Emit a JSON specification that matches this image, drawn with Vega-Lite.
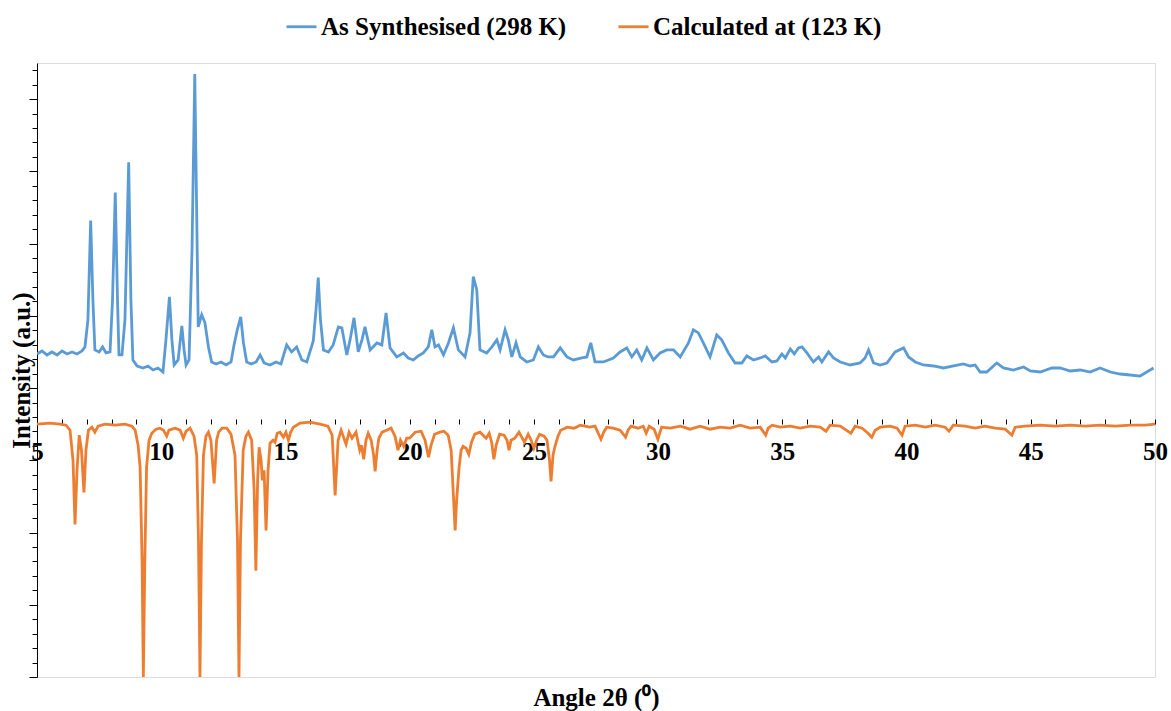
{
  "$schema": "https://vega.github.io/schema/vega-lite/v6.json",
  "autosize": {"type": "none"},
  "padding": {"left": 37, "top": 63, "right": 16, "bottom": 34},
  "width": 1118,
  "height": 614,
  "background": "white",
  "datasets": {
    "synth": [
      {"angle":5.00,"intensity":70},{"angle":5.20,"intensity":73},{"angle":5.40,"intensity":69},{"angle":5.60,"intensity":72},{"angle":5.81,"intensity":69},{"angle":6.01,"intensity":73},{"angle":6.21,"intensity":70},{"angle":6.41,"intensity":72},{"angle":6.61,"intensity":70},{"angle":6.81,"intensity":73},{"angle":6.93,"intensity":77},{"angle":7.05,"intensity":104},{"angle":7.16,"intensity":203},{"angle":7.25,"intensity":124},{"angle":7.33,"intensity":74},{"angle":7.50,"intensity":72},{"angle":7.64,"intensity":77},{"angle":7.78,"intensity":71},{"angle":7.94,"intensity":72},{"angle":8.04,"intensity":124},{"angle":8.15,"intensity":231},{"angle":8.24,"intensity":124},{"angle":8.30,"intensity":69},{"angle":8.42,"intensity":69},{"angle":8.54,"intensity":104},{"angle":8.69,"intensity":261},{"angle":8.78,"intensity":124},{"angle":8.86,"intensity":64},{"angle":9.03,"intensity":58},{"angle":9.27,"intensity":56},{"angle":9.47,"intensity":58},{"angle":9.67,"intensity":54},{"angle":9.87,"intensity":56},{"angle":10.07,"intensity":52},{"angle":10.19,"intensity":84},{"angle":10.33,"intensity":127},{"angle":10.43,"intensity":84},{"angle":10.52,"intensity":59},{"angle":10.68,"intensity":64},{"angle":10.83,"intensity":98},{"angle":10.92,"intensity":74},{"angle":11.00,"intensity":59},{"angle":11.12,"intensity":64},{"angle":11.24,"intensity":174},{"angle":11.35,"intensity":349},{"angle":11.42,"intensity":224},{"angle":11.49,"intensity":97},{"angle":11.63,"intensity":109},{"angle":11.76,"intensity":101},{"angle":11.90,"intensity":77},{"angle":12.03,"intensity":62},{"angle":12.21,"intensity":60},{"angle":12.41,"intensity":62},{"angle":12.61,"intensity":59},{"angle":12.81,"intensity":62},{"angle":12.93,"intensity":79},{"angle":13.06,"intensity":94},{"angle":13.20,"intensity":107},{"angle":13.31,"intensity":81},{"angle":13.44,"intensity":62},{"angle":13.62,"intensity":60},{"angle":13.82,"intensity":62},{"angle":13.98,"intensity":69},{"angle":14.14,"intensity":61},{"angle":14.38,"intensity":59},{"angle":14.62,"intensity":62},{"angle":14.82,"intensity":60},{"angle":15.05,"intensity":79},{"angle":15.25,"intensity":72},{"angle":15.45,"intensity":77},{"angle":15.66,"intensity":64},{"angle":15.86,"intensity":62},{"angle":16.12,"intensity":83},{"angle":16.23,"intensity":114},{"angle":16.32,"intensity":146},{"angle":16.41,"intensity":104},{"angle":16.53,"intensity":74},{"angle":16.73,"intensity":72},{"angle":16.92,"intensity":79},{"angle":17.13,"intensity":97},{"angle":17.27,"intensity":96},{"angle":17.47,"intensity":69},{"angle":17.60,"intensity":84},{"angle":17.76,"intensity":106},{"angle":17.93,"intensity":72},{"angle":18.08,"intensity":84},{"angle":18.20,"intensity":97},{"angle":18.41,"intensity":74},{"angle":18.68,"intensity":81},{"angle":18.88,"intensity":79},{"angle":19.05,"intensity":111},{"angle":19.21,"intensity":76},{"angle":19.48,"intensity":67},{"angle":19.75,"intensity":71},{"angle":19.94,"intensity":66},{"angle":20.15,"intensity":64},{"angle":20.34,"intensity":68},{"angle":20.55,"intensity":71},{"angle":20.75,"intensity":77},{"angle":20.89,"intensity":94},{"angle":21.02,"intensity":77},{"angle":21.16,"intensity":79},{"angle":21.36,"intensity":69},{"angle":21.56,"intensity":81},{"angle":21.76,"intensity":96},{"angle":21.96,"intensity":74},{"angle":22.23,"intensity":67},{"angle":22.43,"intensity":91},{"angle":22.56,"intensity":147},{"angle":22.70,"intensity":134},{"angle":22.83,"intensity":74},{"angle":23.10,"intensity":71},{"angle":23.31,"intensity":77},{"angle":23.51,"intensity":84},{"angle":23.64,"intensity":74},{"angle":23.84,"intensity":94},{"angle":23.97,"intensity":84},{"angle":24.11,"intensity":67},{"angle":24.28,"intensity":81},{"angle":24.45,"intensity":67},{"angle":24.71,"intensity":62},{"angle":24.98,"intensity":64},{"angle":25.18,"intensity":77},{"angle":25.38,"intensity":69},{"angle":25.57,"intensity":67},{"angle":25.79,"intensity":67},{"angle":26.06,"intensity":76},{"angle":26.33,"intensity":67},{"angle":26.59,"intensity":64},{"angle":26.93,"intensity":66},{"angle":27.13,"intensity":67},{"angle":27.29,"intensity":81},{"angle":27.46,"intensity":62},{"angle":27.80,"intensity":62},{"angle":28.20,"intensity":66},{"angle":28.47,"intensity":72},{"angle":28.74,"intensity":76},{"angle":28.94,"intensity":67},{"angle":29.14,"intensity":74},{"angle":29.34,"intensity":64},{"angle":29.55,"intensity":76},{"angle":29.81,"intensity":64},{"angle":30.08,"intensity":71},{"angle":30.35,"intensity":74},{"angle":30.62,"intensity":74},{"angle":30.89,"intensity":67},{"angle":31.22,"intensity":81},{"angle":31.42,"intensity":94},{"angle":31.62,"intensity":91},{"angle":31.82,"intensity":81},{"angle":32.09,"intensity":67},{"angle":32.36,"intensity":89},{"angle":32.56,"intensity":84},{"angle":32.83,"intensity":71},{"angle":33.10,"intensity":61},{"angle":33.37,"intensity":61},{"angle":33.57,"intensity":68},{"angle":33.84,"intensity":64},{"angle":34.11,"intensity":66},{"angle":34.31,"intensity":68},{"angle":34.58,"intensity":62},{"angle":34.78,"intensity":63},{"angle":34.98,"intensity":70},{"angle":35.12,"intensity":66},{"angle":35.32,"intensity":75},{"angle":35.48,"intensity":70},{"angle":35.65,"intensity":76},{"angle":35.79,"intensity":77},{"angle":35.99,"intensity":71},{"angle":36.25,"intensity":62},{"angle":36.46,"intensity":67},{"angle":36.59,"intensity":62},{"angle":36.86,"intensity":72},{"angle":37.06,"intensity":66},{"angle":37.33,"intensity":62},{"angle":37.73,"intensity":59},{"angle":38.13,"intensity":61},{"angle":38.33,"intensity":66},{"angle":38.47,"intensity":74},{"angle":38.67,"intensity":61},{"angle":38.94,"intensity":59},{"angle":39.21,"intensity":61},{"angle":39.54,"intensity":72},{"angle":39.88,"intensity":76},{"angle":40.08,"intensity":67},{"angle":40.35,"intensity":62},{"angle":40.68,"intensity":59},{"angle":41.08,"intensity":58},{"angle":41.49,"intensity":56},{"angle":41.89,"intensity":58},{"angle":42.29,"intensity":60},{"angle":42.56,"intensity":58},{"angle":42.76,"intensity":59},{"angle":42.96,"intensity":52},{"angle":43.23,"intensity":52},{"angle":43.63,"intensity":61},{"angle":43.90,"intensity":56},{"angle":44.30,"intensity":54},{"angle":44.71,"intensity":57},{"angle":44.98,"intensity":53},{"angle":45.38,"intensity":52},{"angle":45.85,"intensity":56},{"angle":46.18,"intensity":56},{"angle":46.59,"intensity":53},{"angle":46.99,"intensity":54},{"angle":47.39,"intensity":52},{"angle":47.79,"intensity":56},{"angle":48.20,"intensity":52},{"angle":48.60,"intensity":50},{"angle":49.00,"intensity":49},{"angle":49.40,"intensity":48},{"angle":49.67,"intensity":52},{"angle":49.94,"intensity":56}
    ],
    "calc": [
      {"angle":5.00,"intensity":0},{"angle":5.52,"intensity":1},{"angle":5.93,"intensity":0},{"angle":6.17,"intensity":-1},{"angle":6.33,"intensity":-6},{"angle":6.45,"intensity":-36},{"angle":6.53,"intensity":-100},{"angle":6.61,"intensity":-46},{"angle":6.70,"intensity":-11},{"angle":6.79,"intensity":-26},{"angle":6.89,"intensity":-68},{"angle":6.97,"intensity":-26},{"angle":7.07,"intensity":-6},{"angle":7.21,"intensity":-3},{"angle":7.33,"intensity":-8},{"angle":7.46,"intensity":-2},{"angle":7.74,"intensity":0},{"angle":8.14,"intensity":-1},{"angle":8.54,"intensity":0},{"angle":8.82,"intensity":-2},{"angle":8.95,"intensity":-6},{"angle":9.07,"intensity":-21},{"angle":9.15,"intensity":-43},{"angle":9.23,"intensity":-136},{"angle":9.28,"intensity":-252},{"angle":9.34,"intensity":-136},{"angle":9.41,"intensity":-43},{"angle":9.51,"intensity":-16},{"angle":9.62,"intensity":-9},{"angle":9.79,"intensity":-5},{"angle":9.95,"intensity":-4},{"angle":10.09,"intensity":-6},{"angle":10.22,"intensity":-12},{"angle":10.31,"intensity":-6},{"angle":10.56,"intensity":-4},{"angle":10.76,"intensity":-6},{"angle":10.89,"intensity":-14},{"angle":11.00,"intensity":-7},{"angle":11.16,"intensity":-4},{"angle":11.32,"intensity":-12},{"angle":11.43,"intensity":-31},{"angle":11.50,"intensity":-116},{"angle":11.56,"intensity":-252},{"angle":11.62,"intensity":-116},{"angle":11.70,"intensity":-31},{"angle":11.80,"intensity":-12},{"angle":11.90,"intensity":-8},{"angle":12.00,"intensity":-16},{"angle":12.13,"intensity":-59},{"angle":12.23,"intensity":-16},{"angle":12.31,"intensity":-8},{"angle":12.45,"intensity":-4},{"angle":12.64,"intensity":-4},{"angle":12.81,"intensity":-10},{"angle":12.97,"intensity":-31},{"angle":13.07,"intensity":-116},{"angle":13.13,"intensity":-252},{"angle":13.19,"intensity":-116},{"angle":13.30,"intensity":-26},{"angle":13.41,"intensity":-12},{"angle":13.51,"intensity":-8},{"angle":13.64,"intensity":-16},{"angle":13.74,"intensity":-66},{"angle":13.81,"intensity":-146},{"angle":13.88,"intensity":-56},{"angle":13.94,"intensity":-23},{"angle":14.02,"intensity":-36},{"angle":14.07,"intensity":-56},{"angle":14.14,"intensity":-46},{"angle":14.22,"intensity":-106},{"angle":14.30,"intensity":-46},{"angle":14.38,"intensity":-19},{"angle":14.50,"intensity":-16},{"angle":14.58,"intensity":-18},{"angle":14.67,"intensity":-9},{"angle":14.78,"intensity":-8},{"angle":14.92,"intensity":-13},{"angle":15.02,"intensity":-8},{"angle":15.12,"intensity":-16},{"angle":15.21,"intensity":-8},{"angle":15.32,"intensity":-3},{"angle":15.59,"intensity":1},{"angle":15.99,"intensity":2},{"angle":16.39,"intensity":0},{"angle":16.71,"intensity":-2},{"angle":16.88,"intensity":-11},{"angle":17.00,"intensity":-71},{"angle":17.12,"intensity":-16},{"angle":17.24,"intensity":-6},{"angle":17.44,"intensity":-20},{"angle":17.56,"intensity":-8},{"angle":17.68,"intensity":-14},{"angle":17.84,"intensity":-8},{"angle":17.99,"intensity":-26},{"angle":18.06,"intensity":-21},{"angle":18.15,"intensity":-35},{"angle":18.24,"intensity":-16},{"angle":18.33,"intensity":-9},{"angle":18.45,"intensity":-16},{"angle":18.55,"intensity":-31},{"angle":18.61,"intensity":-47},{"angle":18.69,"intensity":-26},{"angle":18.76,"intensity":-14},{"angle":18.89,"intensity":-8},{"angle":19.07,"intensity":-6},{"angle":19.25,"intensity":-4},{"angle":19.41,"intensity":-12},{"angle":19.53,"intensity":-26},{"angle":19.63,"intensity":-16},{"angle":19.76,"intensity":-22},{"angle":19.88,"intensity":-14},{"angle":20.00,"intensity":-14},{"angle":20.22,"intensity":-8},{"angle":20.46,"intensity":-7},{"angle":20.62,"intensity":-16},{"angle":20.76,"intensity":-33},{"angle":20.86,"intensity":-21},{"angle":21.00,"intensity":-10},{"angle":21.22,"intensity":-8},{"angle":21.38,"intensity":-7},{"angle":21.55,"intensity":-11},{"angle":21.67,"intensity":-26},{"angle":21.77,"intensity":-76},{"angle":21.83,"intensity":-106},{"angle":21.89,"intensity":-76},{"angle":21.99,"intensity":-43},{"angle":22.07,"intensity":-26},{"angle":22.15,"intensity":-22},{"angle":22.27,"intensity":-24},{"angle":22.38,"intensity":-30},{"angle":22.49,"intensity":-18},{"angle":22.62,"intensity":-10},{"angle":22.83,"intensity":-8},{"angle":23.08,"intensity":-14},{"angle":23.20,"intensity":-9},{"angle":23.30,"intensity":-18},{"angle":23.39,"intensity":-35},{"angle":23.48,"intensity":-21},{"angle":23.62,"intensity":-10},{"angle":23.80,"intensity":-11},{"angle":23.92,"intensity":-16},{"angle":24.00,"intensity":-26},{"angle":24.08,"intensity":-16},{"angle":24.23,"intensity":-14},{"angle":24.40,"intensity":-8},{"angle":24.62,"intensity":-18},{"angle":24.77,"intensity":-10},{"angle":24.89,"intensity":-16},{"angle":25.00,"intensity":-24},{"angle":25.11,"intensity":-16},{"angle":25.23,"intensity":-10},{"angle":25.41,"intensity":-12},{"angle":25.53,"intensity":-16},{"angle":25.63,"intensity":-36},{"angle":25.69,"intensity":-57},{"angle":25.77,"intensity":-31},{"angle":25.85,"intensity":-22},{"angle":25.97,"intensity":-12},{"angle":26.08,"intensity":-6},{"angle":26.34,"intensity":-3},{"angle":26.62,"intensity":-4},{"angle":26.86,"intensity":-1},{"angle":27.24,"intensity":-3},{"angle":27.46,"intensity":-2},{"angle":27.70,"intensity":-15},{"angle":27.81,"intensity":-8},{"angle":27.93,"intensity":-3},{"angle":28.19,"intensity":-4},{"angle":28.47,"intensity":-6},{"angle":28.69,"intensity":-13},{"angle":28.79,"intensity":-6},{"angle":28.91,"intensity":-2},{"angle":29.19,"intensity":-4},{"angle":29.40,"intensity":-2},{"angle":29.52,"intensity":-9},{"angle":29.64,"intensity":-2},{"angle":29.84,"intensity":-5},{"angle":29.99,"intensity":-15},{"angle":30.14,"intensity":-3},{"angle":30.49,"intensity":-4},{"angle":30.89,"intensity":-2},{"angle":31.29,"intensity":-5},{"angle":31.69,"intensity":-2},{"angle":32.09,"intensity":-5},{"angle":32.50,"intensity":-3},{"angle":32.90,"intensity":-4},{"angle":33.30,"intensity":-1},{"angle":33.70,"intensity":-4},{"angle":34.11,"intensity":-3},{"angle":34.33,"intensity":-11},{"angle":34.43,"intensity":-4},{"angle":34.59,"intensity":-1},{"angle":34.91,"intensity":-3},{"angle":35.32,"intensity":-2},{"angle":35.72,"intensity":-4},{"angle":36.12,"intensity":-2},{"angle":36.52,"intensity":-3},{"angle":36.76,"intensity":-7},{"angle":36.92,"intensity":-1},{"angle":37.33,"intensity":-2},{"angle":37.76,"intensity":-9},{"angle":37.93,"intensity":-2},{"angle":38.21,"intensity":-4},{"angle":38.45,"intensity":-9},{"angle":38.60,"intensity":-13},{"angle":38.74,"intensity":-6},{"angle":38.94,"intensity":-3},{"angle":39.34,"intensity":-2},{"angle":39.62,"intensity":-4},{"angle":39.82,"intensity":-11},{"angle":39.94,"intensity":-2},{"angle":40.35,"intensity":-1},{"angle":40.75,"intensity":-3},{"angle":41.15,"intensity":-1},{"angle":41.55,"intensity":-3},{"angle":41.71,"intensity":-7},{"angle":41.88,"intensity":-1},{"angle":42.36,"intensity":-2},{"angle":42.76,"intensity":-4},{"angle":43.16,"intensity":-2},{"angle":43.57,"intensity":-4},{"angle":43.97,"intensity":-5},{"angle":44.24,"intensity":-11},{"angle":44.37,"intensity":-3},{"angle":44.77,"intensity":-2},{"angle":45.38,"intensity":-1},{"angle":45.98,"intensity":-2},{"angle":46.59,"intensity":-1},{"angle":47.19,"intensity":-2},{"angle":47.79,"intensity":-1},{"angle":48.40,"intensity":-2},{"angle":49.00,"intensity":-1},{"angle":49.61,"intensity":-1},{"angle":50.00,"intensity":0}
    ]
  },
  "encoding": {
    "x": {
      "field": "angle", "type": "quantitative",
      "scale": {"domain": [5, 50], "nice": false, "zero": false},
      "axis": {
        "orient": "bottom",
        "offset": -258,
        "domain": false,
        "values": [5,6,7,8,9,10,11,12,13,14,15,16,17,18,19,20,21,22,23,24,25,26,27,28,29,30,31,32,33,34,35,36,37,38,39,40,41,42,43,44,45,46,47,48,49,50],
        "labelExpr": "datum.value % 5 === 0 ? datum.label : ''",
        "labelFlush": false,
        "labelOverlap": false,
        "labelBound": false,
        "grid": false,
        "tickSize": 5,
        "labelPadding": 15,
        "labelFont": "Liberation Serif",
        "labelFontWeight": "bold",
        "labelFontSize": 25,
        "labelColor": "#000000",
        "tickColor": "#000000",
        "title": "Angle 2θ (⁰)",
        "titleFont": "Liberation Serif",
        "titleFontWeight": "bold",
        "titleFontSize": 25,
        "titleColor": "#000000",
        "titleX": 559,
        "titleY": 278,
        "titleBaseline": "middle",
        "titleAlign": "center"
      }
    },
    "y": {
      "field": "intensity", "type": "quantitative",
      "scale": {"domain": [-252, 360], "nice": false, "zero": false},
      "axis": {
        "orient": "left",
        "values": [-252,-237.6,-223.2,-208.8,-194.4,-180,-165.6,-151.2,-136.8,-122.4,-108,-93.6,-79.2,-64.8,-50.4,-36,-21.6,-7.2,7.2,21.6,36,50.4,64.8,79.2,93.6,108,122.4,136.8,151.2,165.6,180,194.4,208.8,223.2,237.6,252,266.4,280.8,295.2,309.6,324,338.4,352.8],
        "labels": false,
        "grid": false,
        "tickSize": {"condition": {"test": "round((datum.value + 252) / 14.4) % 5 === 0", "value": 8}, "value": 5},
        "domainColor": "#000000",
        "tickColor": "#000000",
        "title": "Intensity (a.u.)",
        "titleFont": "Liberation Serif",
        "titleFontWeight": "bold",
        "titleFontSize": 25,
        "titleColor": "#000000",
        "titleAngle": -90,
        "titleX": -16,
        "titleY": 307,
        "titleAlign": "center",
        "titleBaseline": "middle"
      }
    }
  },
  "layer": [
    {
      "mark": {"type": "rule", "color": "#000000", "strokeWidth": 1},
      "encoding": {"y": {"datum": 0}, "x": null}
    },
    {
      "data": {"name": "synth"},
      "mark": {"type": "line", "strokeWidth": 2.8, "clip": true},
      "encoding": {
        "color": {
          "datum": "As Synthesised (298 K)",
          "type": "nominal",
          "scale": {"domain": ["As Synthesised (298 K)", "Calculated at (123 K)"], "range": ["#5B9BD5", "#ED7D31"]},
          "legend": {
            "title": null,
            "orient": "none",
            "direction": "horizontal",
            "legendX": 248,
            "legendY": -53,
            "symbolType": "stroke",
            "symbolSize": 900,
            "symbolStrokeWidth": 2.8,
            "labelFont": "Liberation Serif",
            "labelFontWeight": "bold",
            "labelFontSize": 25,
            "labelColor": "#000000",
            "labelOffset": 3,
            "columnPadding": 45,
            "padding": 0,
            "labelLimit": 400
          }
        }
      }
    },
    {
      "data": {"name": "calc"},
      "mark": {"type": "line", "strokeWidth": 2.8, "clip": true},
      "encoding": {
        "color": {"datum": "Calculated at (123 K)", "type": "nominal"}
      }
    }
  ]
}
